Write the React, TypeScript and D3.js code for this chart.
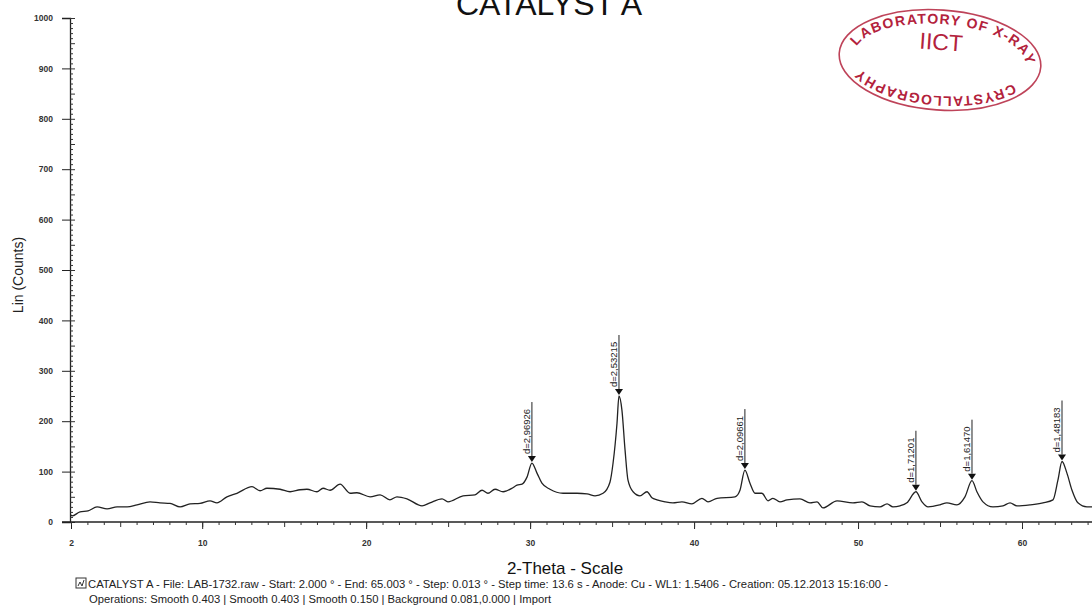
import React, { useEffect, useRef } from 'react'
import * as d3 from 'd3'

// 2-theta (deg) and intensity
const theta = [2.0, 2.06, 2.55, 3.04, 3.59, 4.2, 4.81, 5.42, 6.03, 6.82, 7.43, 8.04, 8.65, 9.26, 9.87, 10.48, 10.9, 11.51, 12.12, 13.04, 13.53, 13.95, 14.75, 15.36, 15.97, 16.39, 17.0, 17.37, 17.8, 18.41, 19.02, 19.44, 20.24, 20.85, 21.45, 21.88, 22.49, 23.41, 23.89, 24.63, 24.99, 25.91, 26.64, 27.07, 27.43, 27.86, 28.35, 28.59, 28.9, 29.2, 29.51, 29.81, 30.11, 30.42, 30.72, 31.21, 32.01, 32.86, 33.47, 33.96, 34.45, 34.87, 35.06, 35.3, 35.42, 35.6, 35.79, 35.97, 36.28, 36.7, 37.13, 37.43, 37.74, 38.23, 38.71, 39.26, 39.87, 40.48, 40.85, 41.4, 42.5, 42.8, 43.1, 43.41, 43.72, 44.14, 44.51, 44.81, 45.24, 45.67, 46.46, 47.07, 47.5, 47.86, 48.72, 49.69, 50.24, 50.73, 51.34, 51.77, 52.13, 52.56, 52.98, 53.53, 53.9, 54.27, 55.0, 55.42, 56.03, 56.52, 56.95, 57.25, 57.62, 58.23, 58.84, 59.27, 59.69, 60.49, 61.28, 61.89, 62.19, 62.44, 62.74, 63.05, 63.41, 63.96, 64.27, 65.0]
const counts = [14, 12, 20, 22, 30, 26, 30, 30, 34, 40, 38, 37, 30, 36, 37, 42, 38, 50, 57, 70, 62, 67, 65, 60, 64, 65, 60, 67, 63, 75, 57, 58, 50, 54, 44, 50, 46, 32, 38, 46, 40, 52, 54, 63, 57, 65, 60, 62, 67, 73, 75, 89, 117, 97, 77, 65, 57, 57, 56, 52, 57, 79, 117, 196, 250, 222, 143, 83, 60, 52, 60, 48, 44, 40, 38, 40, 36, 47, 40, 47, 50, 63, 103, 77, 57, 57, 42, 47, 40, 44, 46, 38, 40, 28, 42, 38, 40, 32, 30, 36, 30, 32, 38, 60, 40, 30, 34, 38, 34, 50, 82, 60, 40, 30, 32, 38, 32, 34, 38, 44, 83, 120, 97, 63, 38, 30, 30, 26]

const peakTheta = [30.11, 35.42, 43.1, 53.53, 56.95, 62.44]
const peakCounts = [117, 250, 103, 60, 82, 120]
const peakLabels = ['d=2,96926', 'd=2,53215', 'd=2,09661', 'd=1,71201', 'd=1,61470', 'd=1,48183']

const yTicks = [0, 100, 200, 300, 400, 500, 600, 700, 800, 900, 1000]
const xTicks = [2, 10, 20, 30, 40, 50, 60]

const title = 'CATALYST A'
const footer1 = 'CATALYST A - File: LAB-1732.raw - Start: 2.000 ° - End: 65.003 ° - Step: 0.013 ° - Step time: 13.6 s - Anode: Cu - WL1: 1.5406 - Creation: 05.12.2013 15:16:00 -'
const footer2 = 'Operations: Smooth 0.403 | Smooth 0.403 | Smooth 0.150 | Background 0.081,0.000 | Import'

const App = () => {
  const ref = useRef<SVGSVGElement>(null)
  const width = 1092
  const height = 611

  useEffect(() => {
    const svg = d3.select(ref.current)
    svg.selectAll('*').remove()
    const font = '"Liberation Sans", Arial, sans-serif'

    const x = d3.scaleLinear().domain([2, 60]).range([71, 1022])
    const y = d3.scaleLinear().domain([0, 1000]).range([522, 18])

    // title (cut off at the top like the scan)
    svg.append('text')
      .attr('x', 549).attr('y', 15)
      .attr('text-anchor', 'middle')
      .attr('font-family', font).attr('font-size', 32)
      .attr('fill', '#111')
      .text(title)

    // y axis
    const yMajor = svg.append('g').attr('transform', 'translate(70,0)')
      .call(d3.axisLeft(y).tickValues(yTicks).tickSize(8).tickPadding(9).tickFormat(d3.format('d')))
    yMajor.select('.domain').attr('stroke', '#222').attr('stroke-width', 1.3)
    yMajor.selectAll('line').attr('stroke', '#222')
    yMajor.selectAll('text').attr('font-family', font).attr('font-size', 8.5)
      .attr('font-weight', 'bold').attr('fill', '#333')

    const yMinor = svg.append('g').attr('transform', 'translate(70,0)')
      .call(d3.axisRight(y).tickValues(d3.range(0, 1001, 10)).tickSize(3).tickFormat(() => ''))
    yMinor.select('.domain').remove()
    yMinor.selectAll('line').attr('stroke', '#333')
      .attr('x2', (d: any) => (d % 50 === 0 ? 5 : 3))

    // x axis
    svg.append('line').attr('x1', 62).attr('x2', width).attr('y1', 522).attr('y2', 522)
      .attr('stroke', '#222').attr('stroke-width', 1.3)
    const xMajor = svg.append('g').attr('transform', 'translate(0,522)')
      .call(d3.axisBottom(x).tickValues(xTicks).tickSize(7).tickPadding(11).tickFormat(d3.format('d')))
    xMajor.select('.domain').remove()
    xMajor.selectAll('line').attr('stroke', '#222')
    xMajor.selectAll('text').attr('font-family', font).attr('font-size', 8.5)
      .attr('font-weight', 'bold').attr('fill', '#333')

    const xMinor = svg.append('g').attr('transform', 'translate(0,522)')
      .call(d3.axisBottom(x).tickValues(d3.range(2, 66, 1)).tickSize(3).tickFormat(() => ''))
    xMinor.select('.domain').remove()
    xMinor.selectAll('line').attr('stroke', '#333')
      .attr('y2', (d: any) => (d % 5 === 0 ? 5 : 3))

    // axis titles
    svg.append('text')
      .attr('transform', 'translate(23,275) rotate(-90)')
      .attr('text-anchor', 'middle')
      .attr('font-family', font).attr('font-size', 14).attr('fill', '#222')
      .text('Lin (Counts)')
    svg.append('text')
      .attr('x', 565).attr('y', 574)
      .attr('text-anchor', 'middle')
      .attr('font-family', font).attr('font-size', 17).attr('fill', '#111')
      .text('2-Theta - Scale')

    // pattern
    const line = d3.line<number>()
      .x((d, i) => x(theta[i]))
      .y(d => y(d))
      .curve(d3.curveMonotoneX)
    svg.append('path')
      .datum(counts)
      .attr('d', line)
      .attr('fill', 'none')
      .attr('stroke', '#222')
      .attr('stroke-width', 1.3)

    // peak markers
    const peaks = svg.append('g')
    peakTheta.forEach((t, i) => {
      const px = x(t)
      const py = y(peakCounts[i]) - 1
      peaks.append('path')
        .attr('d', `M${px},${py} L${px - 4},${py - 6} L${px + 4},${py - 6} Z`)
        .attr('fill', '#111')
      peaks.append('line')
        .attr('x1', px).attr('x2', px).attr('y1', py - 6).attr('y2', py - 60)
        .attr('stroke', '#222').attr('stroke-width', 1)
      peaks.append('text')
        .attr('transform', `translate(${px - 2},${py - 8}) rotate(-90)`)
        .attr('font-family', font).attr('font-size', 9.5).attr('fill', '#222')
        .text(peakLabels[i])
    })

    // footer
    const f = svg.append('g')
    f.append('rect').attr('x', 76).attr('y', 578).attr('width', 10).attr('height', 10)
      .attr('fill', 'none').attr('stroke', '#333').attr('stroke-width', 1)
    f.append('path').attr('d', 'M78,586 L80,582 L82,586 L84,580')
      .attr('fill', 'none').attr('stroke', '#333').attr('stroke-width', 1)
    f.append('text').attr('x', 88).attr('y', 588)
      .attr('font-family', font).attr('font-size', 10).attr('fill', '#222')
      .attr('textLength', 800).attr('lengthAdjust', 'spacingAndGlyphs')
      .text(footer1)
    f.append('text').attr('x', 89).attr('y', 603)
      .attr('font-family', font).attr('font-size', 10).attr('fill', '#222')
      .attr('textLength', 462).attr('lengthAdjust', 'spacingAndGlyphs')
      .text(footer2)

    // lab stamp
    const red = '#b3223c'
    const st = svg.append('g').attr('transform', 'translate(940,60) rotate(4)')
    st.append('ellipse').attr('rx', 101).attr('ry', 50)
      .attr('fill', 'none').attr('stroke', red).attr('stroke-width', 1.6).attr('opacity', 0.85)
    const rx = 86, ry = 36
    st.append('path').attr('id', 'stampPath')
      .attr('d', `M${-rx},0 A${rx},${ry} 0 1 1 ${rx},0 A${rx},${ry} 0 1 1 ${-rx},0`)
      .attr('fill', 'none')
    st.append('text')
      .attr('font-family', font).attr('font-size', 14).attr('font-weight', 'bold').attr('fill', red)
      .append('textPath').attr('href', '#stampPath')
      .attr('startOffset', 8).attr('textLength', 190)
      .text('LABORATORY OF X-RAY')
    st.append('text')
      .attr('font-family', font).attr('font-size', 14).attr('font-weight', 'bold').attr('fill', red)
      .append('textPath').attr('href', '#stampPath')
      .attr('startOffset', 222).attr('textLength', 160)
      .text('CRYSTALLOGRAPHY')
    st.append('text').attr('x', 0).attr('y', -10)
      .attr('text-anchor', 'middle')
      .attr('font-family', font).attr('font-size', 23).attr('fill', red)
      .text('IICT')
  }, [])

  return (
    <div id="chartArea">
      <svg ref={ref} width={width} height={height}
        style={{ position: 'absolute', left: 0, top: 0, background: '#fff' }}></svg>
    </div>
  )
}

export default App
